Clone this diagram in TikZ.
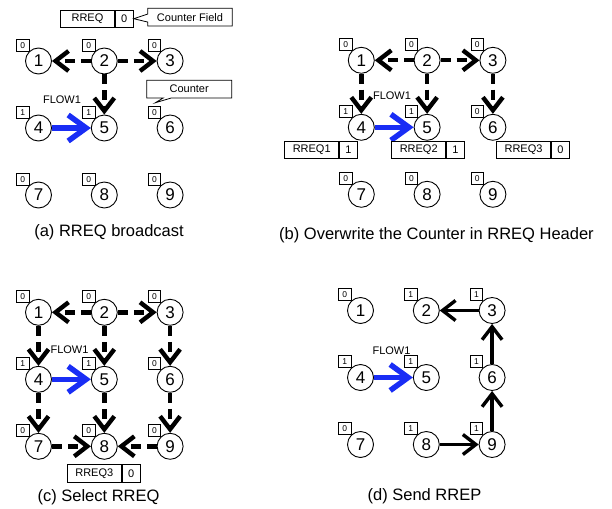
\documentclass[tikz,border=0pt]{standalone}
\usepackage{fontspec}
\setmainfont{Liberation Sans}
\usetikzlibrary{arrows.meta,calc,shapes.callouts}
\definecolor{flowblue}{RGB}{25,45,245}

\begin{document}
\begin{tikzpicture}[x=1pt,y=-1pt,
    station/.style={circle,draw,line width=0.9pt,fill=white,minimum size=26pt,inner sep=0pt,font=\fontsize{17}{17}\selectfont},
    cntbox/.style={draw,line width=0.8pt,fill=white,minimum width=12.5pt,minimum height=12pt,inner sep=0pt,font=\fontsize{8.5}{8.5}\selectfont,anchor=south east},
    hdrname/.style={draw,line width=0.8pt,fill=white,minimum width=54pt,minimum height=17.5pt,inner sep=0pt,font=\fontsize{11}{11}\selectfont},
    hdrval/.style={hdrname,minimum width=18pt},
    note/.style={rectangle callout,draw,line width=0.8pt,fill=white,minimum height=17.7pt,inner sep=0pt,callout pointer width=8pt,font=\fontsize{11}{11}\selectfont},
    flood/.style={line width=4.4pt,dash pattern=on 10pt off 6pt,-{Straight Barb[length=13pt,width=20pt,line width=4.4pt]}},
    flow/.style={flowblue,line width=5.5pt,-{Straight Barb[length=18pt,width=26pt,line width=5.5pt]}},
    rrep/.style={line width=3.4pt,-{Straight Barb[length=13pt,width=20pt,line width=3.4pt]}},
    flowlabel/.style={font=\fontsize{11}{11}\selectfont},
    caption/.style={font=\fontsize{16.5}{16.5}\selectfont}]

    \useasboundingbox (0,0) rectangle (612,508);

    % (a) RREQ broadcast
    \foreach \i/\val in {1/0,2/0,3/0,4/1,5/1,6/0,7/0,8/0,9/0} {
        \pgfmathtruncatemacro\col{mod(\i-1,3)}
        \pgfmathtruncatemacro\row{(\i-1)/3}
        \node[station] (a\i) at (38.5+65.8*\col, 61+67*\row) {\i};
        \node[cntbox] (a\i c) at ($(a\i)+(-9,-9.5)$) {\val};
    }
    \node[hdrname] (ahdr) at (87.5,18.7) {RREQ};
    \node[hdrval, anchor=west] (ahdrv) at (ahdr.east) {0};
    \node[note, minimum width=84.6pt, callout absolute pointer={(ahdrv.east)}] (afield) at (190,17.2) {Counter Field};
    \node[note, minimum width=85pt, callout absolute pointer={($(a6c.north)+(1,-3)$)}] (acounter) at (189.2,89.2) {Counter};

    \draw[flood] (a2) -- (a1);
    \draw[flood] (a2) -- (a3);
    \draw[flood] (a2) -- (a5);
    \draw[flow] (a4) -- (a5);
    \node[flowlabel] (aflow) at (62,100) {FLOW1};
    \node[caption] (acap) at (109,232) {(a) RREQ broadcast};

    % (b) overwrite the counter
    \foreach \i/\val in {1/0,2/0,3/0,4/1,5/1,6/0,7/0,8/0,9/0} {
        \pgfmathtruncatemacro\col{mod(\i-1,3)}
        \pgfmathtruncatemacro\row{(\i-1)/3}
        \node[station] (b\i) at (361.3+65.8*\col, 60.3+67*\row) {\i};
        \node[cntbox] (b\i c) at ($(b\i)+(-9,-9.5)$) {\val};
    }
    \draw[flood] (b2) -- (b1);
    \draw[flood] (b2) -- (b3);
    \draw[flood] (b1) -- (b4);
    \draw[flood] (b2) -- (b5);
    \draw[flood] (b3) -- (b6);
    \draw[flow] (b4) -- (b5);
    \node[flowlabel] (bflow) at (392,96) {FLOW1};

    \node[hdrval, anchor=north east] (b4v) at ($(b4.south)+(-3.4,0)$) {1};
    \node[hdrname, anchor=east] (b4h) at (b4v.west) {RREQ1};
    \node[hdrval, anchor=north west] (b5v) at ($(b5.south)+(19,0)$) {1};
    \node[hdrname, anchor=east] (b5h) at (b5v.west) {RREQ2};
    \node[hdrname, anchor=north west] (b6h) at ($(b6.south)+(3.2,0)$) {RREQ3};
    \node[hdrval, anchor=west] (b6v) at (b6h.east) {0};
    \node[caption] (bcap) at (436.5,235) {(b) Overwrite the Counter in RREQ Header};

    % (c) select RREQ
    \foreach \i/\val in {1/0,2/0,3/0,4/1,5/1,6/0,7/0,8/0,9/0} {
        \pgfmathtruncatemacro\col{mod(\i-1,3)}
        \pgfmathtruncatemacro\row{(\i-1)/3}
        \node[station] (c\i) at (38.5+65.8*\col, 312.3+67*\row) {\i};
        \node[cntbox] (c\i c) at ($(c\i)+(-9,-9.5)$) {\val};
    }
    \draw[flood] (c2) -- (c1);
    \draw[flood] (c2) -- (c3);
    \draw[flood] (c1) -- (c4);
    \draw[flood] (c2) -- (c5);
    \draw[flood] (c3) -- (c6);
    \draw[flood] (c4) -- (c7);
    \draw[flood] (c5) -- (c8);
    \draw[flood] (c6) -- (c9);
    \draw[flood] (c7) -- (c8);
    \draw[flood] (c9) -- (c8);
    \draw[flow] (c4) -- (c5);
    \node[flowlabel] (cflow) at (69.5,350) {FLOW1};

    \node[hdrname, anchor=north west] (c8h) at ($(c8.south)+(-37.4,4.7)$) {RREQ3};
    \node[hdrval, anchor=west] (c8v) at (c8h.east) {0};
    \node[caption] (ccap) at (98.5,497) {(c) Select RREQ};

    % (d) send RREP
    \foreach \i/\val in {1/0,2/1,3/1,4/1,5/1,6/1,7/0,8/1,9/1} {
        \pgfmathtruncatemacro\col{mod(\i-1,3)}
        \pgfmathtruncatemacro\row{(\i-1)/3}
        \node[station] (d\i) at (360.5+65.8*\col, 310.5+67*\row) {\i};
        \node[cntbox] (d\i c) at ($(d\i)+(-9,-9.5)$) {\val};
    }
    \draw[rrep] (d8) -- (d9);
    \draw[rrep] (d9) -- (d6);
    \draw[rrep] (d6) -- (d3);
    \draw[rrep] (d3) -- (d2);
    \draw[flow] (d4) -- (d5);
    \node[flowlabel] (dflow) at (391.5,350.5) {FLOW1};
    \node[caption] (dcap) at (424.5,496) {(d) Send RREP};
\end{tikzpicture}
\end{document}
